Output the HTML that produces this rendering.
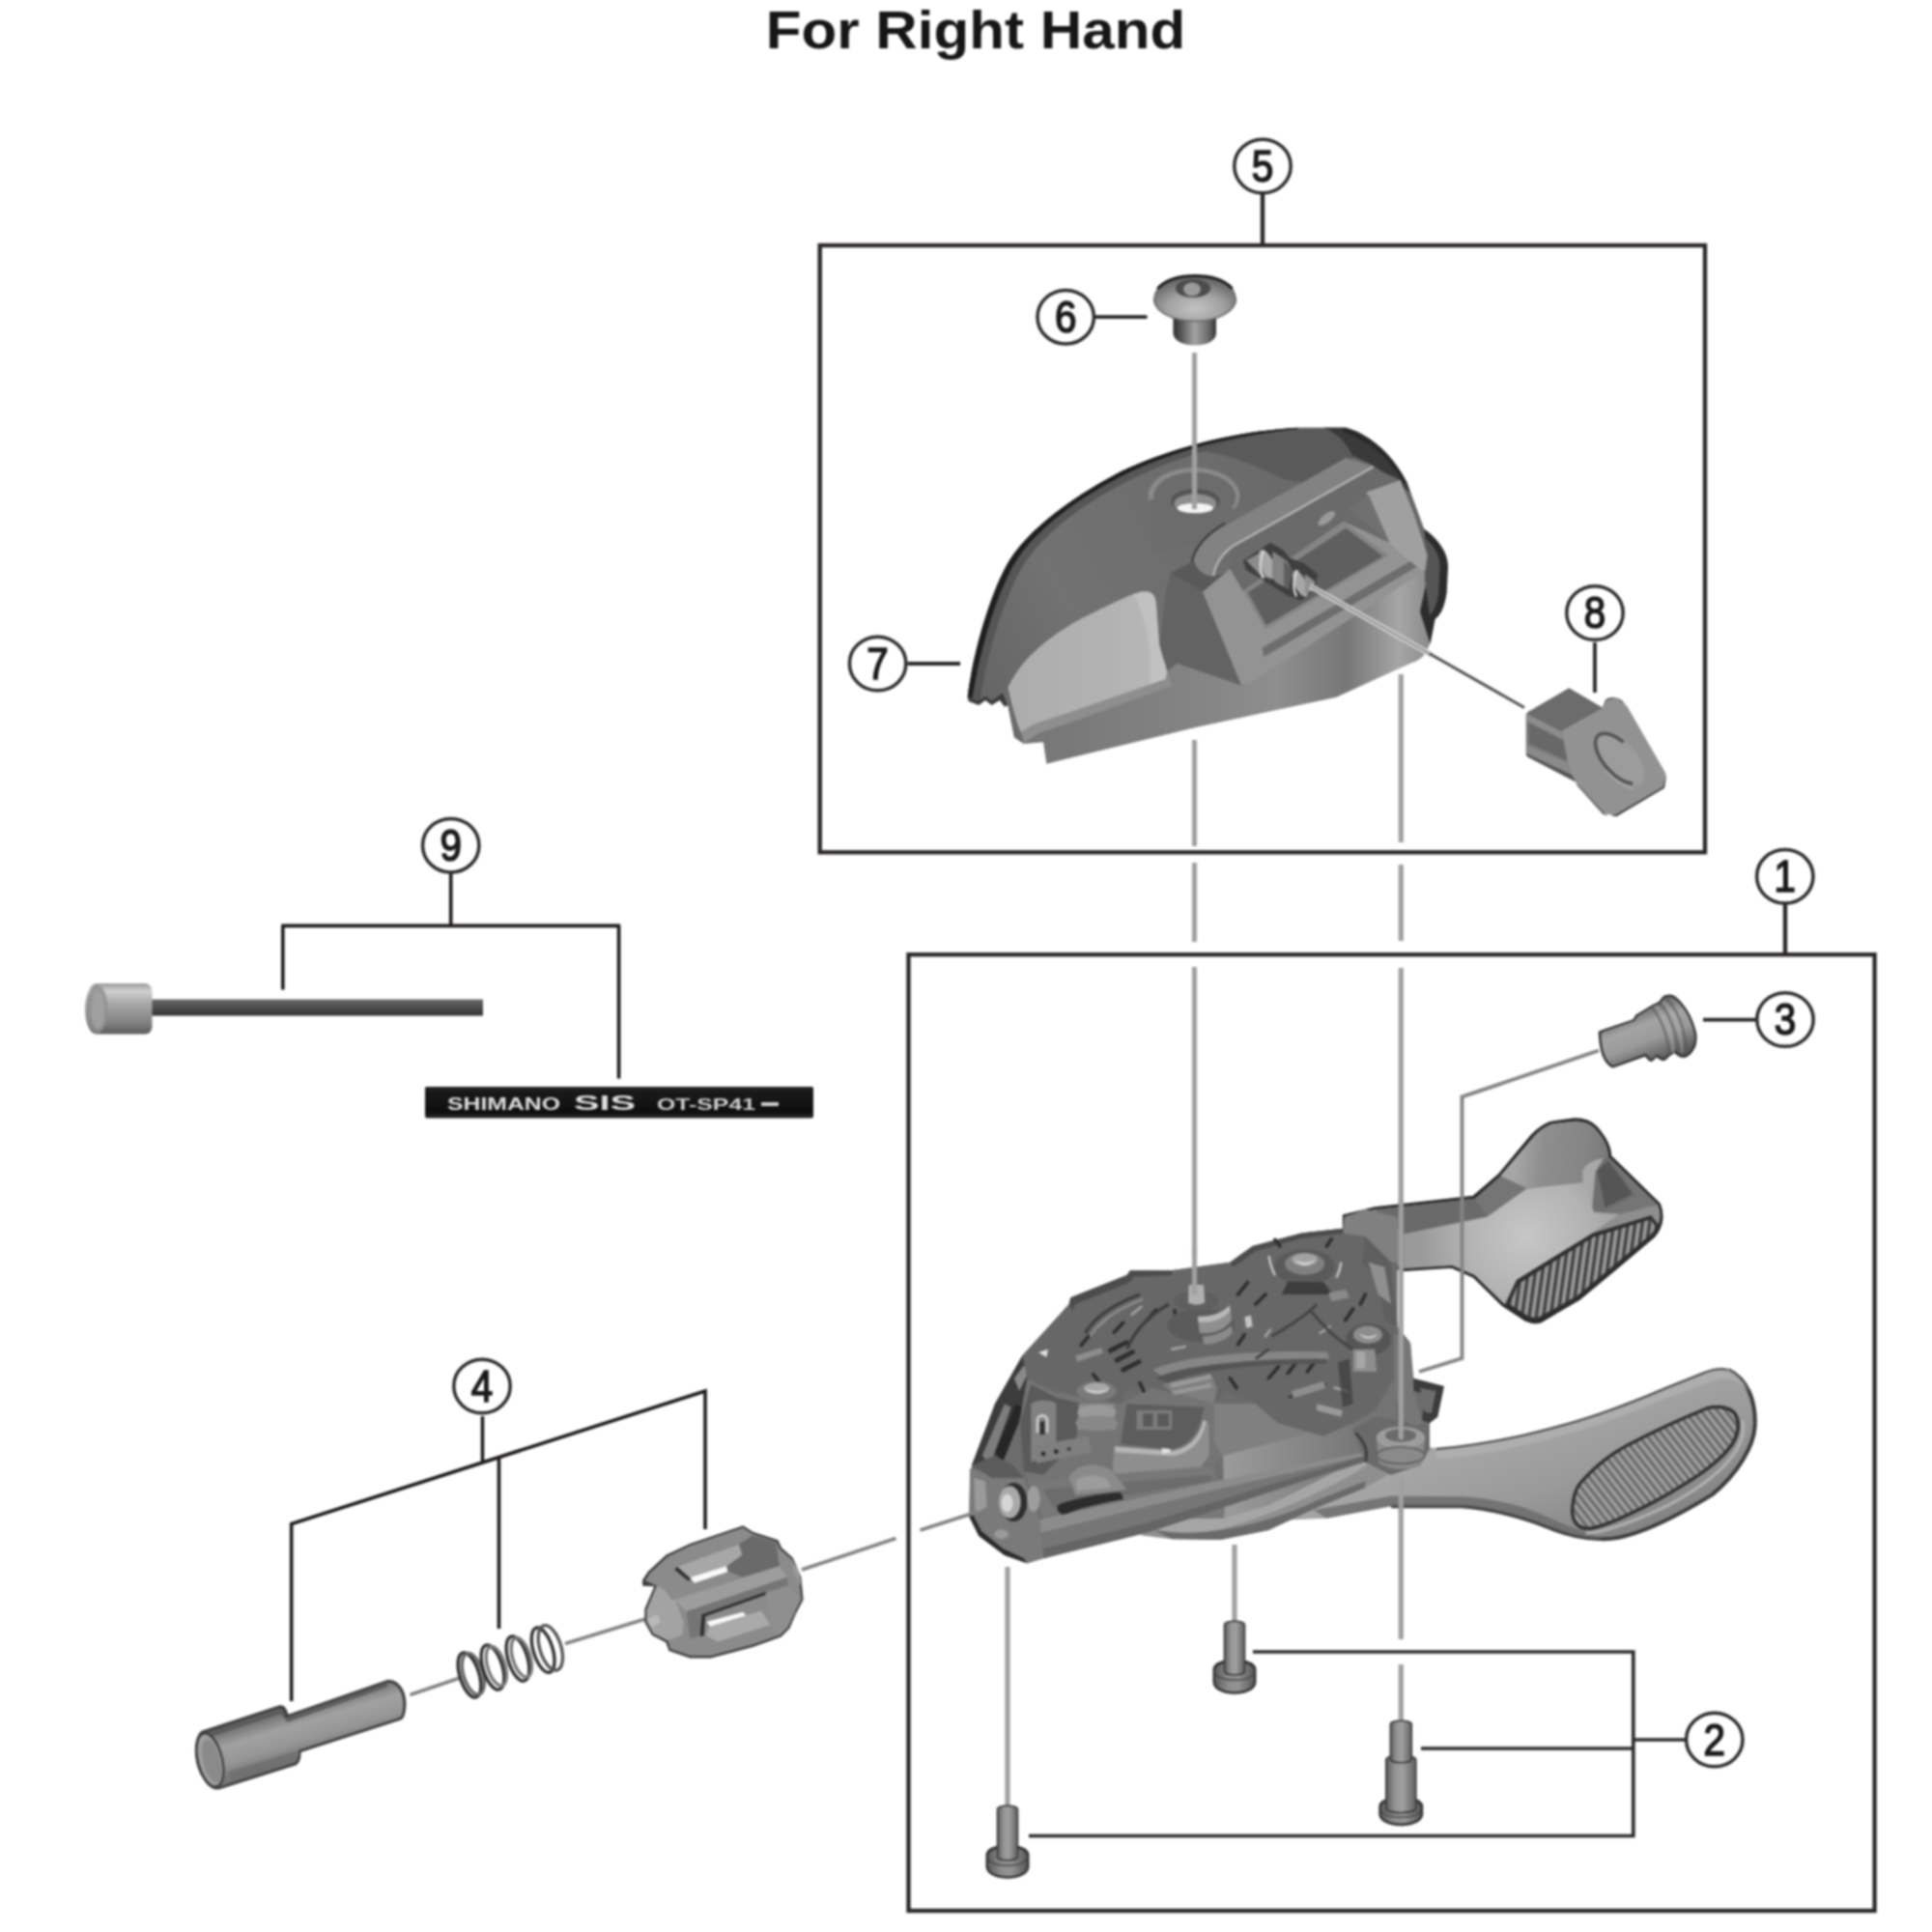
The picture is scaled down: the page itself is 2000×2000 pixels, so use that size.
<!DOCTYPE html>
<html><head><meta charset="utf-8"><title>For Right Hand</title>
<style>
html,body{margin:0;padding:0;background:#fff;}
body{width:2000px;height:2000px;overflow:hidden;position:relative;font-family:"Liberation Sans",sans-serif;}
svg{position:absolute;left:0;top:0;display:block;}
.ln{stroke:#2c2828;stroke-width:4.4;fill:none;stroke-linecap:butt;stroke-linejoin:miter;}
.gd{stroke:#a0a0a0;stroke-width:5.2;fill:none;}
.ld{stroke:#282424;stroke-width:3.8;fill:none;}
.num{font-family:"Liberation Sans",sans-serif;font-size:47px;stroke:#1a1a1a;stroke-width:1.7px;fill:#1a1a1a;text-anchor:middle;}
.cir{fill:#fff;stroke:#2e2a2a;stroke-width:3.5;}
</style></head><body>
<svg width="2000" height="2000" viewBox="0 0 2000 2000">
<defs>
<linearGradient id="skirt" gradientUnits="userSpaceOnUse" x1="250" y1="0" x2="1600" y2="0">
<stop offset="0" stop-color="#747474"/><stop offset=".45" stop-color="#858585"/><stop offset=".62" stop-color="#8e8e8e"/><stop offset=".78" stop-color="#777"/><stop offset=".9" stop-color="#a6a6a6"/><stop offset="1" stop-color="#808080"/>
</linearGradient>
<linearGradient id="ctop" gradientUnits="userSpaceOnUse" x1="150" y1="900" x2="1400" y2="200">
<stop offset="0" stop-color="#666"/><stop offset=".25" stop-color="#727272"/><stop offset=".6" stop-color="#6d6d6d"/><stop offset="1" stop-color="#676767"/>
</linearGradient>
<linearGradient id="cpanel" gradientUnits="userSpaceOnUse" x1="260" y1="0" x2="740" y2="0">
<stop offset="0" stop-color="#adadad"/><stop offset=".6" stop-color="#b2b2b2"/><stop offset="1" stop-color="#b8b8b8"/>
</linearGradient>
<linearGradient id="b6s" x1="0" y1="0" x2="1" y2="0">
<stop offset="0" stop-color="#2e2e2e"/><stop offset=".18" stop-color="#555"/><stop offset=".5" stop-color="#a4a4a4"/><stop offset=".82" stop-color="#6a6a6a"/><stop offset="1" stop-color="#333"/>
</linearGradient>
<radialGradient id="b6h" cx=".5" cy=".72" r=".62">
<stop offset="0" stop-color="#c2c2c2"/><stop offset=".55" stop-color="#a2a2a2"/><stop offset="1" stop-color="#6a6a6a"/>
</radialGradient>
<linearGradient id="p8d" x1="0" y1="0" x2="0" y2="1">
<stop offset="0" stop-color="#a0a0a0"/><stop offset=".45" stop-color="#9a9a9a"/><stop offset=".8" stop-color="#777"/><stop offset="1" stop-color="#3c3c3c"/>
</linearGradient>
<linearGradient id="ll" gradientUnits="userSpaceOnUse" x1="800" y1="1000" x2="950" y2="1400">
<stop offset="0" stop-color="#a6a6a6"/><stop offset=".5" stop-color="#9a9a9a"/><stop offset="1" stop-color="#848484"/>
</linearGradient>
<radialGradient id="ul" gradientUnits="userSpaceOnUse" cx="720" cy="450" r="330">
<stop offset="0" stop-color="#c6c6c6"/><stop offset=".6" stop-color="#b2b2b2"/><stop offset="1" stop-color="#9a9a9a"/>
</radialGradient>
<pattern id="hatchL" patternUnits="userSpaceOnUse" width="20" height="20" patternTransform="rotate(-38)">
<rect width="20" height="20" fill="#9e9e9e"/><rect width="9" height="20" fill="#686868"/>
</pattern>
<pattern id="hatchU" patternUnits="userSpaceOnUse" width="22" height="22" patternTransform="rotate(8)">
<rect width="22" height="22" fill="#9a9a9a"/><rect width="10" height="22" fill="#3e3e3e"/>
</pattern>
<linearGradient id="drum" gradientUnits="userSpaceOnUse" x1="860" y1="0" x2="1300" y2="0">
<stop offset="0" stop-color="#9b9b9b"/><stop offset=".4" stop-color="#8c8c8c"/><stop offset="1" stop-color="#767676"/>
</linearGradient>
<linearGradient id="b3" gradientUnits="userSpaceOnUse" x1="700" y1="450" x2="950" y2="1100">
<stop offset="0" stop-color="#6a6a6a"/><stop offset=".3" stop-color="#a4a4a4"/><stop offset=".6" stop-color="#9a9a9a"/><stop offset="1" stop-color="#5a5a5a"/>
</linearGradient>
<linearGradient id="scS" x1="0" y1="0" x2="1" y2="0">
<stop offset="0" stop-color="#5a5a5a"/><stop offset=".3" stop-color="#949494"/><stop offset=".55" stop-color="#a0a0a0"/><stop offset="1" stop-color="#606060"/>
</linearGradient>
<linearGradient id="scH" x1="0" y1="0" x2="1" y2="0">
<stop offset="0" stop-color="#5e5e5e"/><stop offset=".35" stop-color="#8e8e8e"/><stop offset=".6" stop-color="#939393"/><stop offset="1" stop-color="#5a5a5a"/>
</linearGradient>
<linearGradient id="cy4" gradientUnits="userSpaceOnUse" x1="560" y1="520" x2="620" y2="720">
<stop offset="0" stop-color="#7a7a7a"/><stop offset=".3" stop-color="#a2a2a2"/><stop offset=".7" stop-color="#969696"/><stop offset="1" stop-color="#777"/>
</linearGradient>
<linearGradient id="wire" x1="0" y1="0" x2="0" y2="1">
<stop offset="0" stop-color="#6a6a6a"/><stop offset=".3" stop-color="#585858"/><stop offset="1" stop-color="#333"/>
</linearGradient>
<linearGradient id="chead" x1="0" y1="0" x2="0" y2="1">
<stop offset="0" stop-color="#9a9a9a"/><stop offset=".15" stop-color="#d0d0d0"/><stop offset=".4" stop-color="#a8a8a8"/><stop offset=".75" stop-color="#858585"/><stop offset="1" stop-color="#5c5c5c"/>
</linearGradient>
<linearGradient id="casing" x1="0" y1="0" x2="0" y2="1">
<stop offset="0" stop-color="#3a3a3a"/><stop offset=".2" stop-color="#1a1a1a"/><stop offset=".8" stop-color="#0e0e0e"/><stop offset="1" stop-color="#2a2a2a"/>
</linearGradient>
<linearGradient id="ulw" gradientUnits="userSpaceOnUse" x1="690" y1="200" x2="960" y2="230">
<stop offset="0" stop-color="#a6a6a6"/><stop offset=".3" stop-color="#8e8e8e"/><stop offset=".8" stop-color="#848484"/><stop offset="1" stop-color="#7a7a7a"/>
</linearGradient>
<filter id="soft" filterUnits="userSpaceOnUse" x="0" y="0" width="2000" height="2000" color-interpolation-filters="sRGB"><feGaussianBlur stdDeviation="0.9"/></filter>
</defs>
<rect width="2000" height="2000" fill="#fff"/>
<g filter="url(#soft)">
<!--TITLE-->
<text id="title" transform="translate(1010 50) scale(1.075 1)" x="0" y="0" font-size="56" font-weight="bold" text-anchor="middle" fill="#161616" font-family="Liberation Sans, sans-serif">For Right Hand</text>

<!--GUIDES-->
<g id="guides">
<path class="gd" d="M1236.5 766V876M1236.5 893V975M1236.5 1001V1300"/>
<path class="gd" d="M1450.3 698V872M1450.3 895V974M1450.3 1002V1250M1450.3 1531V1697M1450.3 1723V1782"/>
<path class="gd" d="M1278 1599V1679M1043 1622V1869"/>
</g>

<!--BOXES-->
<g id="boxes">
<rect class="ln" x="848.7" y="254" width="916.3" height="628.3"/>
<rect class="ln" x="940.5" y="988.2" width="1000.1" height="989.8"/>
<path class="ln" d="M1307 200V254M1848 935V988.2"/>
</g>

<!--PARTS-->
<g id="parts">
<g id="cover" transform="translate(960 400) scale(.333333)">
<!-- base / skirt -->
<path fill="url(#skirt)" d="M125 965C140 840 190 650 255 540C320 440 440 350 600 265C760 190 950 140 1150 128L1300 128C1380 150 1450 220 1490 300L1545 450C1590 480 1615 520 1615 560L1612 640C1605 690 1590 710 1575 720L1560 800C1545 840 1530 850 1500 860L1270 965L830 1060L370 1172L360 1105L300 1110L270 1090L250 990L235 950L200 975L180 960L160 975Z"/>
<!-- right dark bulge -->
<path fill="#2c2c2c" d="M1540 440C1590 475 1618 520 1617 560L1613 640C1606 690 1592 712 1577 722L1562 800L1530 700L1560 560Z"/>
<path fill="#555" d="M1545 470C1575 495 1592 525 1592 560L1588 640C1584 675 1572 700 1560 712L1545 600Z"/>
<!-- top surface -->
<path fill="url(#ctop)" d="M125 965C140 840 190 650 255 540C320 440 440 350 600 265C760 190 950 140 1150 128L1300 128C1380 150 1450 220 1490 300L1545 450L1548 565L1000 925L975 930L775 860L745 885L720 800L710 670C705 640 690 632 660 638C620 650 560 680 480 720C370 780 290 850 250 935L235 950L200 975L180 960L160 975Z"/>
<!-- dark rim left -->
<path fill="#1f1f1f" d="M125 965C140 840 190 650 255 540C320 440 440 350 600 265C760 190 950 140 1150 128L1150 136C955 150 765 200 608 277C452 358 335 448 272 548C208 658 160 840 140 968Z"/>
<path fill="#565656" d="M140 968C160 840 208 658 272 548C335 448 452 358 608 277C765 200 955 150 1150 136L1150 150C960 166 775 216 620 295C470 373 355 462 295 560C232 668 182 845 165 972L160 975Z"/>
<!-- hump -->
<path fill="#5a5a5a" d="M860 200C950 165 1050 140 1150 133L1300 130L1330 215L1180 300L1110 290C1030 250 950 215 860 200Z"/>
<path fill="#3a3a3a" d="M1230 128L1300 128C1380 150 1450 220 1490 300L1500 330L1385 245L1320 215C1300 170 1270 145 1230 128Z"/>
<path fill="#282828" d="M1290 128C1380 150 1450 220 1490 300L1478 300C1440 230 1380 170 1290 140Z"/>
<!-- screw boss -->
<ellipse cx="828" cy="340" rx="142" ry="88" fill="#8a8a8a"/>
<ellipse cx="830" cy="344" rx="128" ry="78" fill="#6c6c6c"/>
<path fill="#6c6c6c" d="M690 350L700 520L850 480L960 380Z"/>
<ellipse cx="832" cy="356" rx="76" ry="38" fill="#555"/>
<ellipse cx="832" cy="364" rx="66" ry="30" fill="#8e8e8e"/>
<ellipse cx="832" cy="378" rx="56" ry="16" fill="#f4f4f4"/>
<!-- front light panel -->
<path fill="url(#cpanel)" d="M250 935C290 850 370 780 480 720C560 680 620 650 660 638C690 632 705 640 710 670L720 800C730 850 745 870 745 885L740 910L450 1010L330 1050L290 1075C275 1040 262 990 250 935Z"/>
<path fill="#c4c4c4" opacity=".7" d="M640 645C690 632 705 640 710 670L720 800C730 850 745 870 745 885L740 910L690 925C700 850 690 740 640 645Z"/>
<path fill="#8e8e8e" d="M290 1075L330 1050L450 1010L740 910L745 885L760 930L470 1035L345 1078L300 1108Z"/>
<!-- left lower lip -->
<path fill="#3c3c3c" d="M125 965L160 975L180 960L200 975L235 950L250 990L240 995L225 975L200 990L180 975L160 990L128 978Z"/>
<path fill="#6a6a6a" d="M235 950L250 935C262 990 275 1040 290 1075L300 1110L270 1090L250 990Z"/>
<!-- housing left face -->
<path fill="#636363" d="M755 580L860 640L975 925L775 860L745 885L722 800L740 640Z"/>
<path fill="#595959" d="M755 580L830 540L888 590L940 575L860 640Z"/>
<!-- frame -->
<path fill="#939393" d="M855 638L940 566L1300 370L1363 329L1469 291L1512 400L1553 525L1548 570L1000 925L975 928Z"/>
<path fill="#6a6a6a" d="M940 566L950 497L1385 252L1469 291L1363 329L1435 485L1292 419L980 635Z"/>
<path fill="#858585" d="M1292 419L1432 525L1050 755L980 635Z"/>
<path fill="#5f5f5f" d="M1300 440L1415 527L1052 742L995 640Z"/>
<path fill="#a0a0a0" d="M1363 329L1469 291L1512 400L1553 525L1540 575L1500 545L1437 490Z"/>
<path fill="#707070" d="M1308 381L1370 335L1435 485Z"/>
<path fill="#4f4f4f" d="M1040 812L1500 543L1520 560L1045 840Z" opacity=".55"/>
<!-- arm -->
<path fill="#828282" d="M828 540C835 500 880 455 930 430L1300 222L1385 248L950 495C915 520 895 555 888 590C860 590 835 570 828 540Z"/>
<path fill="none" stroke="#b4b4b4" stroke-width="7" d="M888 588C895 550 915 520 950 495L1385 250"/>
<path fill="none" stroke="#3a3a3a" stroke-width="6" d="M822 545C828 500 870 455 925 425"/>
<ellipse cx="1240" cy="410" rx="32" ry="13" transform="rotate(-38 1240 410)" fill="#9a9a9a"/>
<!-- pin -->
<g transform="translate(720 90) scale(.5)">
<path fill="#3f3f3f" d="M520 905L690 790L770 835L810 885L900 920L985 985L965 1085L880 1150L800 1120L640 1020L540 960Z"/>
<path fill="#8a8a8a" d="M540 900L650 840L720 1015L640 1005Z"/>
<ellipse cx="672" cy="925" rx="40" ry="98" transform="rotate(-24 672 925)" fill="#a8a8a8"/>
<path fill="none" stroke="#d6d6d6" stroke-width="14" d="M650 838C622 900 620 960 645 1012"/>
<path fill="#838383" d="M705 845L795 905L825 960L805 1078L725 1040L700 1000Z"/>
<path fill="#5e5e5e" d="M775 900L825 960L805 1078L775 1062Z"/>
<ellipse cx="876" cy="1045" rx="36" ry="88" transform="rotate(-24 876 1045)" fill="#a6a6a6"/>
<path fill="none" stroke="#d6d6d6" stroke-width="14" d="M858 962C832 1018 830 1078 852 1125"/>
<path fill="#909090" d="M905 985L968 1032L952 1092L905 1108Z"/>
</g>
<!-- skirt vertical shading right -->
</g>

<g id="bolt6">
<path fill="url(#b6s)" d="M1214.500 328V345C1214.500 352 1224 357.500 1237 357.500C1250 357.500 1259 352 1259 345V328Z"/>
<ellipse cx="1237" cy="309" rx="43" ry="24" fill="url(#b6h)"/>
<path fill="none" stroke="#1c1c1c" stroke-width="3" stroke-linecap="round" d="M1199 298C1208 289 1222 285.500 1237 285.500C1252 285.500 1266 289 1275 298"/>
<path fill="none" stroke="#555" stroke-width="2" d="M1194.500 309C1194.500 322 1213 332.500 1237 332.500C1261 332.500 1279.500 322 1279.500 309" opacity=".6"/>
<ellipse cx="1235" cy="298.500" rx="18" ry="9.500" fill="#4c4c4c"/>
<ellipse cx="1234" cy="299.500" rx="9" ry="7" fill="#9b9b9b"/>
</g>

<g id="part8" transform="translate(1560 690) scale(.10352)">
<path fill="#4e4e4e" d="M955 410L985 335C1010 305 1090 295 1150 340L1210 420L1000 470Z"/>
<path fill="#7b7b7b" stroke="#7b7b7b" stroke-width="30" stroke-linejoin="round" d="M205 480L560 660L650 1090L205 875Z"/>
<path fill="#8d8d8d" d="M190 470L560 650L570 730L200 545Z"/>
<path fill="#686868" d="M215 560L560 740L600 940L225 770Z"/>
<path fill="#8a8a8a" d="M195 790L600 960L640 1090L195 880Z"/>
<path fill="#555" d="M195 870L650 1085L700 1160L640 1130L200 900Z"/>
<path fill="#6c6c6c" stroke="#6c6c6c" stroke-width="24" stroke-linejoin="round" d="M215 465L620 228L950 420L560 645Z"/>
<path fill="#3a3a3a" d="M1595 1090L1575 1215L1095 1500L1040 1490L1545 1195Z"/>
<path fill="#929292" stroke="#929292" stroke-width="60" stroke-linejoin="round" d="M585 655L975 440L1020 360L1090 345L1180 420L1560 1080L1535 1185L1075 1455L980 1440L720 1140L655 1040Z"/>
<path fill="#555" d="M690 1150L980 1470L1020 1495L960 1480L700 1190Z" opacity=".8"/>
<g transform="rotate(48 1120 920)">
<ellipse cx="1120" cy="920" rx="335" ry="168" fill="#9c9c9c"/>
<path fill="none" stroke="#454545" stroke-width="34" stroke-linecap="round" opacity=".85" d="M1388 995A310 150 0 1 1 1014 779"/>
<path fill="none" stroke="#b4b4b4" stroke-width="16" opacity=".7" d="M1120 1100A345 180 0 0 0 1440 1010"/>
</g>
</g>

<g id="levers" transform="translate(1340 1130) scale(.333333)">
<!-- lower lever -->
<path fill="url(#ll)" d="M-260 1250L300 1085L440 1108C540 1100 620 1085 700 1068C800 1045 880 1022 950 998C1030 970 1100 942 1150 920L1270 872C1300 860 1325 856 1345 862C1405 890 1432 960 1428 1040C1425 1100 1375 1185 1295 1250C1150 1340 1040 1388 960 1388C900 1388 850 1376 780 1348C700 1316 600 1292 520 1288L300 1288L100 1325L-250 1340Z"/>
<path fill="none" stroke="#3c3c3c" stroke-width="12" d="M300 1288L520 1288C600 1294 700 1318 780 1350C850 1378 900 1390 960 1390C1040 1390 1150 1342 1297 1252C1377 1187 1427 1100 1430 1040C1434 960 1407 892 1347 864"/>
<path fill="#b2b2b2" d="M440 1108C540 1100 620 1085 700 1068C800 1045 880 1022 950 998C1030 970 1100 942 1150 920L1270 872C1300 860 1325 856 1345 862C1380 880 1400 905 1412 935C1390 900 1350 885 1310 895L1160 950C1100 975 1030 1003 955 1030C880 1055 800 1078 705 1100C620 1118 540 1135 440 1140Z" opacity=".75"/>
<path fill="none" stroke="#555" stroke-width="7" d="M440 1110C540 1102 620 1087 700 1070C800 1047 880 1024 950 1000C1030 972 1100 944 1150 922L1270 874C1300 862 1325 858 1345 864"/>
<path fill="#6a6a6a" d="M100 1325L300 1288L520 1288C600 1292 700 1316 780 1348C850 1376 900 1388 960 1388C900 1370 830 1340 760 1310C690 1280 600 1262 520 1258L300 1256L60 1300Z" opacity=".8"/>
<path fill="none" stroke="#b8b8b8" stroke-width="10" d="M905 1372C960 1368 1060 1335 1160 1285C1250 1238 1330 1180 1372 1115C1392 1082 1398 1050 1392 1022" opacity=".8"/>
<path fill="#333" d="M858 1300C860 1262 868 1235 880 1218C910 1180 960 1135 1010 1106C1080 1068 1160 1028 1282 978C1310 970 1350 974 1368 992C1390 1015 1388 1060 1366 1095C1330 1150 1256 1200 1170 1250C1100 1290 1020 1330 958 1352C930 1362 905 1366 888 1358C868 1348 858 1330 858 1300Z"/>
<path fill="url(#hatchL)" d="M868 1300C870 1266 877 1240 888 1224C917 1188 966 1144 1015 1115C1084 1077 1163 1038 1284 988C1310 981 1344 984 1360 1000C1378 1020 1376 1058 1356 1090C1322 1143 1250 1192 1165 1241C1096 1280 1017 1320 955 1342C930 1351 908 1355 893 1348C876 1340 868 1326 868 1300Z"/>
<!-- upper lever -->
<path fill="#2a2a2a" stroke="#2a2a2a" stroke-width="5" stroke-linejoin="round" d="M152 384L250 360L555 326L636 256L736 136C760 110 790 96 800 94L870 84C900 84 925 95 938 110C960 135 982 165 982 200L1134 348C1148 380 1145 420 1116 452L1004 546L884 646L764 716C745 722 730 716 716 710L646 664L556 576L488 546L330 556L296 534L250 456L152 432Z"/>
<path fill="#757575" d="M160 386L250 366L560 332L640 262L742 142C765 116 790 104 802 100L870 92C895 92 918 100 930 112C955 138 975 168 975 202L1128 350C1140 380 1138 418 1110 448L1000 540L880 640L760 708C745 714 732 708 720 703L650 658L560 570L490 540L332 550L300 530L252 450L160 428Z"/>
<path fill="#8a8a8a" d="M742 142C765 116 790 104 802 100L870 92C895 92 918 100 930 112C955 138 975 168 975 202L905 232L890 290L722 300L640 262Z"/>
<path fill="url(#ulw)" d="M742 142C765 116 790 104 802 100L870 92C895 92 918 100 930 112C955 138 975 168 975 202L905 232L890 290L722 300L640 262Z"/>
<path fill="#6e6e6e" d="M905 232L975 202L1062 322L962 372L922 362Z"/>
<path fill="#555" d="M940 245L975 215L1050 318L965 360Z"/>
<path fill="#a8a8a8" d="M895 245C905 225 930 210 960 208L935 250L925 360L895 300Z"/>
<path fill="url(#ul)" d="M340 442L600 388L720 302L900 282L930 375L1012 380L925 440L690 585L652 660L560 570L490 540L340 550Z"/>
<path fill="#8e8e8e" d="M925 440L1012 380L1128 352C1138 372 1138 395 1130 408L1108 385Z"/>
<path fill="#303030" d="M690 585L925 440L1108 385L1134 420L1112 450L1002 542L882 642L762 710C745 716 732 710 720 705L655 662Z"/>
<path fill="url(#hatchU)" d="M696 597L928 452L1106 397L1124 424L1106 444L998 534L878 634L760 700C746 704 734 700 724 696L668 660Z"/>
<path fill="#8b8b8b" d="M160 386L250 366L300 380L340 442L340 550L300 530L252 450L160 428Z"/>
<path fill="#6a6a6a" d="M250 366L560 332L600 388L340 442Z"/>
</g>
<g id="mech" transform="translate(980 1240) scale(.333333)">
<!-- bottom disc -->
<path fill="#8f8f8f" d="M600 1048L1310 800L1390 850L1300 900L1150 962L1000 1032L850 1062L700 1060Z"/>
<path fill="#6a6a6a" d="M640 1030C780 1060 980 1020 1150 940L1300 880L1300 900L1150 962L1000 1032L850 1062L700 1060Z"/>
<path fill="#a6a6a6" d="M640 1018L1300 800L1305 830C1200 900 1000 990 850 1030C760 1045 700 1040 640 1030Z"/>
<!-- silhouette -->
<path fill="#6c6c6c" d="M70 990L72 900L78 830L150 640L235 490L380 330L385 310L560 240L570 225L700 225L880 200L950 150L1100 110L1230 95L1235 60L1300 35L1400 60L1400 400L1440 450L1450 560L1500 600L1500 760L1470 830L1380 860L1300 820L620 1040L300 1120L250 1135L180 1110L100 1050Z"/>
<!-- left dark side wall -->
<path fill="#3c3c3c" d="M78 830L150 640L235 490L262 520L225 700L140 870Z"/>
<path fill="#7d7d7d" d="M110 800L180 640L200 650L135 830Z"/>
<path fill="#8a8a8a" d="M210 560L240 520L255 540L225 600Z"/>
<path fill="#262626" d="M150 790L215 640L240 655L175 820Z"/>
<!-- inner mid layer -->
<path fill="#747474" d="M250 560L330 600L540 640L640 590L830 640L960 640L1030 700L1170 740L1330 660L1390 560L1400 760L1300 800L860 990L830 830L250 880L225 700Z"/>
<path fill="#5a5a5a" d="M262 580L340 620L420 640L400 760L300 860L240 850L228 700Z"/>
<path fill="#818181" d="M262 640C285 625 320 625 340 640L340 800L262 820Z"/>
<!-- U clip -->
<path fill="none" stroke="#c9c9c9" stroke-width="9" d="M282 730L282 690C282 672 312 672 312 690L312 730"/>
<path fill="#2e2e2e" d="M290 695L304 695L304 735L290 735Z"/>
<!-- small block with holes -->
<path fill="#7f7f7f" d="M270 770L440 740L450 790L280 825Z"/>
<circle cx="300" cy="795" r="7" fill="#2a2a2a"/><circle cx="340" cy="788" r="7" fill="#2a2a2a"/><circle cx="380" cy="780" r="6" fill="#3a3a3a"/>
<!-- curved light piece -->
<path fill="#8e8e8e" d="M520 775L700 790C760 780 790 740 800 690L815 700L815 800L780 850L560 880L515 850Z"/>
<path fill="#b5b5b5" d="M522 772L700 786C756 776 786 738 796 690L806 694C798 748 764 792 702 802L524 790Z"/>
<path fill="#e2e2e2" d="M665 760L690 745L695 790L670 795Z"/>
<path fill="#5d5d5d" d="M560 640L800 650L790 690C780 730 750 770 700 780L540 765L550 700Z"/>
<path fill="#7c7c7c" d="M590 660L700 660L700 720L590 720Z"/>
<path fill="#4a4a4a" d="M610 670L640 670L640 710L610 710ZM655 670L690 670L690 710L655 710Z" opacity=".7"/>
<!-- drum face -->
<path fill="url(#drum)" d="M858 800L1040 752L1230 700L1300 730L1300 800L1150 880L1000 955L862 995Z"/>
<path fill="#6f6f6f" d="M830 830L858 800L862 995L835 900Z"/>
<path fill="#808080" d="M830 640L960 640L1030 700L1170 740L1260 700L1230 700L1040 752L858 800L830 760Z"/>
<!-- base plate -->
<path fill="#787878" d="M250 880L830 832L862 995L300 1000Z"/>
<path fill="#606060" d="M300 905L820 860L830 880L330 960Z" opacity=".5"/>
<path fill="#8a8a8a" d="M380 870C390 840 430 825 470 830C500 835 520 850 530 870L560 905L400 925Z"/>
<path fill="#9c9c9c" d="M400 880C420 860 470 855 500 875L510 900L405 910Z"/>
<path fill="#2c2c2c" d="M345 955C380 935 500 915 540 915L550 935C500 945 400 965 365 985C345 980 340 965 345 955Z"/>
<path fill="#8c8c8c" d="M285 1000L835 880L1300 790L1310 812L620 1040L300 1120Z"/>
<path fill="#767676" d="M292 1040L840 905L1305 800L1310 812L620 1040L300 1120Z"/>
<path fill="#5a5a5a" d="M300 1090L620 1010L1300 800L1305 815L620 1040L300 1120Z" opacity=".6"/>
<!-- left front cap -->
<path fill="#7a7a7a" d="M72 840L240 870L290 1000L300 1120L250 1135L180 1110L100 1050L70 990Z"/>
<path fill="#2b2b2b" d="M70 990L100 1050L180 1110L250 1135L240 1120L175 1090L108 1035L82 985Z"/>
<path fill="#5c5c5c" d="M78 830L140 870L240 870L205 830L150 800Z"/>
<path fill="#9a9a9a" d="M85 870L120 880L125 960L88 980Z"/>
<ellipse cx="208" cy="945" rx="42" ry="60" fill="#2e2e2e"/>
<ellipse cx="196" cy="945" rx="34" ry="50" fill="#a9a9a9"/>
<ellipse cx="188" cy="948" rx="18" ry="28" fill="#d6d6d6"/>
<ellipse cx="270" cy="935" rx="20" ry="40" fill="#9d9d9d"/>
<ellipse cx="170" cy="1045" rx="22" ry="15" fill="#9a9a9a"/>
<!-- top plate -->
<path fill="#676767" d="M235 490L380 330L385 310L560 240L570 225L700 225L880 200L950 150L1100 110L1230 95L1300 120L1380 200L1400 400L1390 560L1330 660L1260 700L1170 740L1030 700L960 640L870 600L830 640L640 590L560 600L540 640L330 600L250 560Z"/>
<path fill="#4c4c4c" d="M380 330L385 310L560 240L570 225L700 225L700 240L580 245L570 262L400 330L390 352Z"/>
<path fill="#4c4c4c" d="M880 200L950 150L1100 110L1230 95L1232 110L1100 126L960 165L890 215Z"/>
<!-- radial slots -->
<path fill="none" stroke="#2f2f2f" stroke-width="11" stroke-linecap="round" d="M418 458L442 428M520 418L548 388M625 378L650 348M712 372L708 350M795 372L800 352M455 548L478 578M612 600L600 575M905 300L935 262M960 330L990 300M905 455L925 425M1000 560L1030 525M1060 545L1085 512M1120 540L1145 505M880 560L900 590M1238 380L1262 345M1285 330L1300 300M1180 150L1195 128M1035 150L1020 130"/>
<path fill="none" stroke="#a2a2a2" stroke-width="8" stroke-linecap="round" d="M470 400L500 372M575 362L605 338M990 430L1005 410M1160 420L1190 400M700 470L740 462M1205 590L1245 600"/>
<!-- post left -->
<path fill="#8c8c8c" d="M410 640L520 640L525 720L405 720Z"/>
<ellipse cx="466" cy="600" rx="62" ry="30" fill="#7a7a7a"/>
<ellipse cx="466" cy="592" rx="40" ry="18" fill="#a8a8a8"/>
<path fill="#dcdcdc" d="M430 590C450 605 485 605 502 590C490 612 445 612 430 590Z"/>
<ellipse cx="466" cy="665" rx="60" ry="22" fill="#9a9a9a"/>
<ellipse cx="466" cy="700" rx="66" ry="24" fill="#888"/>
<!-- curved slot band -->
<path fill="#868686" d="M640 535C700 500 900 470 1180 478L1190 500C950 495 760 520 680 560Z"/>
<path fill="#555" d="M650 560C720 525 900 500 1180 502L1180 515C930 515 760 540 690 575Z"/>
<path fill="#7e7e7e" d="M670 580L820 545L840 590L830 640L700 605Z"/>
<path fill="#999" d="M690 575L820 548L824 562L700 590Z"/>
<path fill="#999" d="M700 600L820 575L824 588L705 612Z"/>
<!-- central hub -->
<ellipse cx="790" cy="395" rx="105" ry="52" fill="#5b5b5b"/>
<path fill="#8f8f8f" d="M780 370C820 372 860 360 880 335L885 380C865 410 825 425 785 420Z"/>
<path fill="#b9b9b9" d="M780 368C820 370 858 358 878 334L880 350C860 378 822 388 782 386Z"/>
<path fill="#8a8a8a" d="M795 430C830 428 865 415 885 395L888 420C868 442 832 455 798 455Z"/>
<ellipse cx="775" cy="320" rx="70" ry="30" fill="#5f5f5f"/>
<path fill="#b0b0b0" d="M752 270L798 270L802 325C790 335 762 335 750 325Z"/>
<!-- arcs top-left -->
<path fill="none" stroke="#3e3e3e" stroke-width="10" d="M430 420C460 370 520 330 600 300M560 470C580 420 620 370 690 330"/>
<path fill="none" stroke="#8a8a8a" stroke-width="8" d="M445 430C475 382 532 344 610 314"/>
<path fill="#2e2e2e" d="M500 470L560 440L566 452L506 484ZM520 500L580 470L586 482L526 514ZM540 530L600 500L606 512L546 544Z"/>
<path fill="#8d8d8d" d="M400 490L480 465L486 482L405 510Z"/>
<path fill="#e0e0e0" d="M285 480L315 470L310 495Z"/>
<!-- top right hub -->
<ellipse cx="1112" cy="215" rx="95" ry="55" fill="#5a5a5a"/>
<ellipse cx="1112" cy="205" rx="62" ry="34" fill="#808080"/>
<ellipse cx="1112" cy="192" rx="40" ry="20" fill="#a2a2a2"/>
<path fill="#d8d8d8" d="M1080 190C1095 205 1130 205 1145 190C1135 215 1090 215 1080 190Z"/>
<path fill="none" stroke="#c8c8c8" stroke-width="7" d="M1000 180C1005 205 1010 225 1020 240M1225 200C1222 220 1218 235 1210 248"/>
<path fill="#3d3d3d" d="M1060 260L1170 262L1200 300L1040 300Z"/>
<path fill="#8a8a8a" d="M1185 295L1240 285L1250 310L1195 322Z"/>
<!-- right hub -->
<ellipse cx="1310" cy="440" rx="70" ry="50" fill="#555"/>
<ellipse cx="1308" cy="425" rx="45" ry="28" fill="#8c8c8c"/>
<path fill="#dedede" d="M1282 420C1295 435 1325 435 1338 420C1330 442 1290 442 1282 420Z"/>
<path fill="#8d8d8d" d="M1262 470L1330 470L1335 540L1262 540Z"/>
<path fill="#a6a6a6" d="M1272 478L1300 478L1300 530L1272 530Z"/>
<!-- dark diagonal grooves -->
<path fill="none" stroke="#444" stroke-width="9" d="M1010 430C1060 400 1110 370 1150 330M1130 350C1170 400 1210 440 1260 470M1060 620L1180 580M960 500L1000 470"/>
<path fill="#8e8e8e" d="M1070 600L1170 570L1178 590L1078 622Z"/>
<path fill="#9a9a9a" d="M1150 640L1230 660L1225 680L1148 660Z"/>
<path fill="#3c3c3c" d="M1215 510L1250 500L1262 640L1230 650Z" opacity=".7"/>
<path fill="#c4c4c4" d="M925 370L945 365L950 400L930 405Z"/>
<!-- lever root / right side -->
<path fill="#808080" d="M1235 60L1300 35L1400 60L1400 200L1380 200L1300 120L1232 110Z"/>
<path fill="#5f5f5f" d="M1300 120L1380 200L1400 400L1360 380L1340 260L1290 200Z"/>
<path fill="#8f8f8f" d="M1310 200L1360 215L1380 330L1340 300Z"/>
<path fill="#3b3b3b" d="M1450 560L1545 585L1525 680L1500 700L1475 690L1490 610L1450 600Z"/>
<path fill="#6d6d6d" d="M1470 590L1520 600L1505 670L1485 665Z"/>
<path fill="#777" d="M1390 420L1440 450L1450 600L1480 700L1420 720L1390 600Z"/>
<!-- pivot -->
<path fill="#6a6a6a" d="M1260 720L1330 680L1420 690L1500 740L1500 780L1470 830L1380 860L1300 820Z"/>
<path fill="#8a8a8a" d="M1335 745L1485 745L1480 820C1450 850 1370 850 1340 820Z"/>
<ellipse cx="1410" cy="745" rx="76" ry="34" fill="#9d9d9d"/>
<ellipse cx="1410" cy="738" rx="48" ry="20" fill="#6b6b6b"/>
<ellipse cx="1410" cy="800" rx="74" ry="26" fill="none" stroke="#666" stroke-width="6"/>
<path fill="none" stroke="#3a3a3a" stroke-width="8" d="M1270 730C1300 760 1310 790 1300 820"/>
</g>

<g id="bolt3" transform="translate(1630 1010) scale(.082816)">
<path fill="#333" d="M300 740C290 700 310 690 340 680L730 545L765 490L960 370L1055 322L1100 262C1140 235 1200 228 1240 248C1340 310 1470 480 1525 720C1535 800 1520 880 1500 910C1470 970 1430 1010 1380 1025C1340 1035 1290 1010 1250 970L1180 1010C1150 1055 1110 1075 1085 1060L1020 1020C990 1065 960 1085 935 1070L880 1010L490 1150C450 1160 400 1100 370 1050C330 980 305 850 300 740Z"/>
<path fill="url(#b3)" d="M330 745C325 715 340 708 360 700L750 565L790 505L975 390L1075 340L1115 285C1150 262 1195 258 1228 275C1320 335 1445 495 1497 722C1506 795 1494 868 1478 895C1452 945 1420 980 1378 995C1345 1002 1305 985 1262 935L1172 985C1145 1025 1115 1040 1095 1030L1022 985C995 1030 968 1048 948 1040L890 975L495 1120C465 1128 420 1080 395 1035C360 970 335 850 330 745Z"/>
<path fill="none" stroke="#555" stroke-width="22" d="M960 400C1080 520 1170 760 1180 990M1060 345C1190 470 1280 720 1290 960M1150 290C1290 420 1390 680 1400 960" opacity=".75"/>
<path fill="none" stroke="#b4b4b4" stroke-width="18" d="M1010 375C1135 495 1225 740 1235 975M1105 320C1240 445 1335 700 1345 960" opacity=".7"/>
</g>

<g id="screws">
<path fill="#343434" d="M1255.5 1728.0C1255.5 1714.0 1300.5 1714.0 1300.5 1728.0V1741.0C1300.5 1758.0 1255.5 1758.0 1255.5 1741.0Z"/>
<path fill="url(#scH)" d="M1258.0 1729.0C1258.0 1718.0 1298.0 1718.0 1298.0 1729.0V1741.0C1298.0 1754.5 1258.0 1754.5 1258.0 1741.0Z"/>
<path fill="none" stroke="#4a4a4a" stroke-width="1.6" d="M1258.0 1731.0C1258.0 1742.0 1298.0 1742.0 1298.0 1731.0"/>
<path fill="url(#scS)" stroke="#3a3a3a" stroke-width="1.6" d="M1267.5 1682.0C1267.5 1677.0 1288.5 1677.0 1288.5 1682.0V1730.0C1288.5 1735.0 1267.5 1735.0 1267.5 1730.0Z"/>
<path fill="#343434" d="M1427.3 1870.0C1427.3 1856.0 1473.3 1856.0 1473.3 1870.0V1877.5C1473.3 1894.5 1427.3 1894.5 1427.3 1877.5Z"/>
<path fill="url(#scH)" d="M1429.8 1871.0C1429.8 1860.0 1470.8 1860.0 1470.8 1871.0V1877.5C1470.8 1891.0 1429.8 1891.0 1429.8 1877.5Z"/>
<path fill="none" stroke="#4a4a4a" stroke-width="1.6" d="M1429.8 1873.0C1429.8 1884.0 1470.8 1884.0 1470.8 1873.0"/>
<path fill="url(#scS)" stroke="#3a3a3a" stroke-width="1.6" d="M1434.8 1822.0C1434.8 1815.0 1465.8 1815.0 1465.8 1822.0V1872.0C1465.8 1878.0 1434.8 1878.0 1434.8 1872.0Z"/>
<path fill="url(#scS)" stroke="#3a3a3a" stroke-width="1.6" d="M1439.3 1785.0C1439.3 1780.0 1461.3 1780.0 1461.3 1785.0V1821.0C1461.3 1826.0 1439.3 1826.0 1439.3 1821.0Z"/>
<path fill="#343434" d="M1020.5 1920.0C1020.5 1906.0 1065.5 1906.0 1065.5 1920.0V1932.0C1065.5 1949.0 1020.5 1949.0 1020.5 1932.0Z"/>
<path fill="url(#scH)" d="M1023.0 1921.0C1023.0 1910.0 1063.0 1910.0 1063.0 1921.0V1932.0C1063.0 1945.5 1023.0 1945.5 1023.0 1932.0Z"/>
<path fill="none" stroke="#4a4a4a" stroke-width="1.6" d="M1023.0 1923.0C1023.0 1934.0 1063.0 1934.0 1063.0 1923.0"/>
<path fill="url(#scS)" stroke="#3a3a3a" stroke-width="1.6" d="M1032.5 1873.0C1032.5 1868.0 1053.5 1868.0 1053.5 1873.0V1922.0C1053.5 1927.0 1032.5 1927.0 1032.5 1922.0Z"/>
</g>

<g id="p4lines" stroke="#828282" stroke-width="3.5" fill="none">
<path d="M424.500 1754.500L476 1737M585 1701.500L668 1676M830 1625L927.500 1592.500M952.500 1584L1012 1565"/>
</g>
<g id="cyl4" transform="translate(180 1660) scale(.217391)">
<path fill="#3e3e3e" d="M100 700C100 650 115 615 135 605L500 485C520 480 535 490 545 528L1010 365C1040 358 1065 372 1085 400C1105 430 1112 480 1100 525C1095 545 1088 552 1075 556L605 708C605 740 598 762 580 770L215 885C180 890 150 860 125 810C108 775 100 740 100 700Z"/>
<path fill="url(#cy4)" d="M112 700C112 660 124 628 140 618L498 500C512 497 522 505 532 545L1012 378C1036 373 1056 384 1073 408C1090 435 1097 480 1088 520C1084 536 1078 541 1068 545L594 698C594 732 588 750 574 757L212 872C184 876 158 850 136 805C120 772 112 740 112 700Z"/>
<path fill="#555" d="M140 618L498 500C512 497 522 505 532 545L1012 378L1020 395L540 565L510 525L160 640Z" opacity=".8"/>
<ellipse cx="172" cy="745" rx="58" ry="130" transform="rotate(-14 172 745)" fill="#9f9f9f" stroke="#3c3c3c" stroke-width="10"/>
<ellipse cx="180" cy="750" rx="40" ry="105" transform="rotate(-14 180 750)" fill="#8a8a8a"/>
<path fill="#6e6e6e" d="M260 800L585 700L590 745L574 757L270 852Z" opacity=".7"/>
</g>
<g id="spring4" fill="none" stroke="#303030" stroke-width="3.4">
<g transform="rotate(-17 486 1734)"><ellipse cx="486" cy="1734" rx="10" ry="24"/><ellipse cx="490" cy="1734" rx="10" ry="22" stroke="#666"/></g>
<g transform="rotate(-17 510 1726)"><ellipse cx="510" cy="1726" rx="10" ry="24"/><ellipse cx="514" cy="1726" rx="9" ry="21" stroke="#777"/></g>
<g transform="rotate(-17 536 1717)"><ellipse cx="536" cy="1717" rx="10" ry="24"/><ellipse cx="540" cy="1717" rx="9" ry="21" stroke="#777"/></g>
<g transform="rotate(-17 566 1707)"><ellipse cx="562" cy="1707" rx="10" ry="24"/><ellipse cx="570" cy="1707" rx="11" ry="24" stroke="#555"/></g>
</g>
<g id="barrel4" transform="translate(620 1540) scale(.144928)">
<path fill="#3f3f3f" d="M310 660L350 600L480 480L650 400L1030 270L1100 315L1280 375L1305 430L1385 500L1445 640L1460 800L1405 905L1362 1005L1302 1066L1100 1138L800 1218L650 1218L500 1166L478 1105L378 1054L326 962L326 868L395 705L312 702Z"/>
<path fill="#8b8b8b" d="M330 665L365 610L490 494L655 414L1028 286L1095 330L1268 388L1292 440L1372 508L1430 645L1445 798L1392 898L1350 996L1294 1052L1098 1122L800 1200L652 1200L510 1152L492 1092L390 1042L342 958L342 872L415 700Z"/>
<path fill="#a7a7a7" d="M560 565L1000 405L1025 480L915 560L650 645Z"/>
<path fill="#6a6a6a" d="M1000 405L1100 340L1265 395L1290 560L1025 640L930 600L915 560L1025 480Z"/>
<path fill="#fafafa" d="M652 642L910 560L918 602L682 682Z"/>
<path fill="#2e2e2e" d="M540 585L560 565L655 650L640 668Z"/>
<path fill="#9d9d9d" d="M540 800L1290 560L1345 640L625 885Z"/>
<path fill="#757575" d="M625 885L1345 640L1350 700L1190 745L740 900L720 1060L650 1080Z"/>
<path fill="#2e2e2e" d="M735 905L1190 745L1195 765L760 920L750 1060L722 1060Z"/>
<path fill="#aaa" d="M790 990L1050 910L1160 880L1225 980L850 1100L765 1055Z"/>
<path fill="#fafafa" d="M770 958L1030 888L1050 912L792 992Z"/>
<path fill="#8f8f8f" d="M1190 760L1350 700L1440 790L1395 900L1350 995L1290 1050L1225 980Z"/>
<path fill="#a3a3a3" d="M342 872L415 700L505 722L545 800L605 962L595 1052L492 1092L390 1042L342 958Z"/>
<path fill="#8a8a8a" d="M415 700L505 722L545 800L520 800L480 740Z"/>
<path fill="#b9b9b9" d="M345 940L420 905L440 960L380 1000Z"/>
<path fill="#9a9a9a" d="M1372 508L1430 600L1445 700L1420 660L1390 600Z"/>
</g>

<g id="cable9">
<rect x="157" y="1034.500" width="343" height="17" fill="url(#wire)"/>
<path fill="url(#chead)" d="M100 1018H150C154.500 1018 157.500 1022 157.500 1027V1062C157.500 1067 154.500 1070.500 150 1070.500H100C93 1070.500 88 1059 88 1044.500C88 1030 93 1018 100 1018Z"/>
<ellipse cx="100.500" cy="1044.500" rx="11" ry="25" fill="#8f8f8f" opacity=".85"/>
<ellipse cx="101.500" cy="1046" rx="7" ry="19" fill="#a4a4a4" opacity=".8"/>
</g>
<g id="casing9">
<rect x="440" y="1125" width="402" height="32.500" rx="2" fill="url(#casing)"/>
<g font-family="Liberation Sans, sans-serif" font-weight="bold" fill="#dedede">
<text x="463" y="1148.500" font-size="19" textLength="117" lengthAdjust="spacingAndGlyphs">SHIMANO</text>
<text x="594" y="1149" font-size="22" textLength="64" lengthAdjust="spacingAndGlyphs">SIS</text>
<text x="680" y="1148.500" font-size="17" textLength="102" lengthAdjust="spacingAndGlyphs" fill="#cfcfcf">OT-SP41</text>
<rect x="788" y="1141" width="18" height="4" fill="#cfcfcf"/>
</g>
<rect x="440" y="1125" width="402" height="9" fill="#151515" opacity=".55"/>
</g>

</g>

<!--OVER-->
<g id="over">
<path class="gd" d="M1236.5 365V527" stroke="#b4b4b4"/>
<path class="gd" d="M1236.500 1290V1340" stroke="#b0b0b0"/>
<path class="gd" d="M1450.300 1240V1490" stroke="#b4b4b4"/>
<path class="gd" d="M1450.300 1529V1566" stroke="#c2c2c2"/>
<path d="M1655 1087.500L1513.500 1135.500V1406L1469 1420" stroke="#848484" stroke-width="3.9" fill="none"/>
<path d="M1356 606.5L1482 678" stroke="#cdcdcd" stroke-width="6" fill="none"/>
<path d="M1356 606.5L1482 678" stroke="#8d8d8d" stroke-width="1.8" fill="none"/>
<path d="M1480 676.8L1578 732.5" stroke="#505050" stroke-width="3" fill="none"/>
</g>
<!--LEADERS-->
<g id="leaders">
<path class="ld" d="M1133 328.2H1187.500"/>
<path class="ld" d="M939.500 687H994"/>
<path class="ld" d="M1651 665V717"/>
<path class="ld" d="M1763 1055.600H1818"/>
<path class="ln" style="stroke-width:3.6;stroke:#1e1a1a" d="M466.700 903V958.400M291.200 958.400H642.200M292.800 958.400V1024.500M640.600 958.400V1116.500"/>
<path class="ln" style="stroke-width:3.6;stroke:#1e1a1a" d="M499.5 1466V1513M301.700 1761V1577.500L730 1440V1583M516.500 1507V1686"/>
<path class="ln" style="stroke-width:3.7;stroke:#2e2a2a" d="M1297 1710H1690.800V1900.500H1065M1471 1810H1690.800M1690.800 1801H1746"/>
</g>

<!--CIRCLES-->
<g id="circles">
<g transform="translate(1307 172)"><ellipse class="cir" rx="29.2" ry="27.8"/><text class="num" transform="scale(.86 1)" y="15.9">5</text></g>
<g transform="translate(1103.2 328.2)"><ellipse class="cir" rx="29.2" ry="27.8"/><text class="num" transform="scale(.86 1)" y="15.9">6</text></g>
<g transform="translate(908.6 687)"><ellipse class="cir" rx="29.2" ry="27.8"/><text class="num" transform="scale(.86 1)" y="15.9">7</text></g>
<g transform="translate(1651 634.5)"><ellipse class="cir" rx="29.2" ry="27.8"/><text class="num" transform="scale(.86 1)" y="15.9">8</text></g>
<g transform="translate(1847.8 907.3)"><ellipse class="cir" rx="29.2" ry="27.8"/><text class="num" transform="scale(.86 1)" y="15.9">1</text></g>
<g transform="translate(1848 1055.5)"><ellipse class="cir" rx="29.2" ry="27.8"/><text class="num" transform="scale(.86 1)" y="15.9">3</text></g>
<g transform="translate(1774.8 1801)"><ellipse class="cir" rx="29.2" ry="27.8"/><text class="num" transform="scale(.86 1)" y="15.9">2</text></g>
<g transform="translate(499 1435)"><ellipse class="cir" rx="29.2" ry="27.8"/><text class="num" transform="scale(.86 1)" y="15.9">4</text></g>
<g transform="translate(466.7 875.2)"><ellipse class="cir" rx="29.2" ry="27.8"/><text class="num" transform="scale(.86 1)" y="15.9">9</text></g>
</g>
</g>
</svg>
</body></html>
